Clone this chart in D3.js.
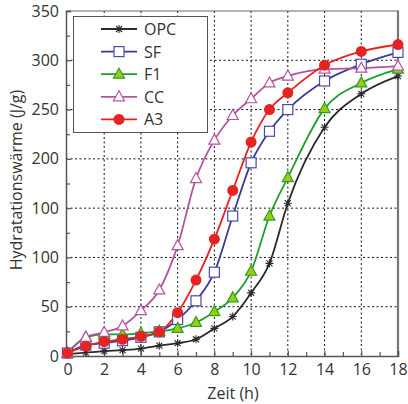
<!DOCTYPE html>
<html><head><meta charset="utf-8">
<script src="https://cdn.jsdelivr.net/npm/d3@7"></script>
<style>body{margin:0;background:#fff}svg{display:block}text{font-family:"Open Sans","Noto Sans",sans-serif;fill:#333}</style>
</head><body><svg id="c" width="408" height="404"></svg>
<script>
const hours = [0,1,2,3,4,5,6,7,8,9,10,11,12,14,16,18];
const opc = [2,3.5,5,6,7.5,10.5,13,17,28,40,64,94,155,232,266,284];
const sf  = [3,11,13,15.5,19,24.5,37,56,85,142,196,228,250,279,296,308];
const f1  = [3,19,22,22,23,25,28,34,45,59,86,142,181,251,277,291];
const cc  = [3,19,24,30.5,46,67,112,180,219,244,261,277,284,291,292,294];
const a3  = [3,10,14.5,17,20,24.5,44,77,118.5,168,217,250,267,295,309,316];
const seriesNames = ["OPC","SF","F1","CC","A3"];
const xTicks = [0,2,4,6,8,10,12,14,16,18];
const yTicks = [0,50,100,150,200,250,300,350];
const yTickLabels = ["0","50","100","100","200","250","300","350"];
const xLabel = "Zeit (h)";
const yLabel = "Hydratationswärme (J/g)";

const svg = d3.select("#c");
const L=66, R=398, T=11, B=356;
const x = d3.scaleLinear().domain([-0.08,18]).range([L,R]);
const y = d3.scaleLinear().domain([0,350]).range([B,T]);
const FS = 16;

// grid
const g = svg.append("g");
g.selectAll(".gx").data(xTicks.filter(d=>d>0&&d<18)).join("line")
 .attr("x1",d=>x(d)).attr("x2",d=>x(d)).attr("y1",T).attr("y2",B)
 .attr("stroke","#111").attr("stroke-width",1).attr("stroke-dasharray","2,2.5");
g.selectAll(".gy").data(yTicks.filter(d=>d>0&&d<350)).join("line")
 .attr("x1",L).attr("x2",R).attr("y1",d=>y(d)).attr("y2",d=>y(d))
 .attr("stroke","#111").attr("stroke-width",1).attr("stroke-dasharray","2,2.5");

// frame
svg.append("line").attr("x1",L).attr("x2",R).attr("y1",T).attr("y2",T).attr("stroke","#666").attr("stroke-width",1.2);
svg.append("line").attr("x1",R).attr("x2",R).attr("y1",T-0.6).attr("y2",B).attr("stroke","#777").attr("stroke-width",2.2);

// axes
const xAxis = d3.axisBottom(x).tickValues(xTicks).tickSize(-5).tickPadding(8).tickFormat(d3.format("d"));
svg.append("g").attr("transform",`translate(0,${B})`).call(xAxis);
const xMinor = d3.axisBottom(x).tickValues(d3.range(1,18,2)).tickSize(-4).tickFormat("");
svg.append("g").attr("transform",`translate(0,${B})`).call(xMinor).call(s=>s.select(".domain").remove());
const yAxis = d3.axisLeft(y).tickValues(yTicks).tickSize(-5).tickPadding(7).tickFormat((d,i)=>yTickLabels[i]);
svg.append("g").attr("transform",`translate(${L},0)`).call(yAxis);
const yMinor = d3.axisLeft(y).tickValues(d3.range(25,350,50)).tickSize(-4).tickFormat("");
svg.append("g").attr("transform",`translate(${L},0)`).call(yMinor).call(s=>s.select(".domain").remove());
svg.selectAll(".domain").attr("stroke","#555").attr("stroke-width",1.5);
svg.selectAll(".tick line").attr("stroke","#555").attr("stroke-width",1.2);
svg.selectAll(".tick text").attr("font-size",FS).attr("fill","#333").style("font-family",'"Open Sans","Noto Sans",sans-serif');

svg.append("text").attr("x",233).attr("y",399).attr("text-anchor","middle").attr("font-size",FS).text(xLabel);
svg.append("text").attr("transform","translate(22,180) rotate(-90)").attr("text-anchor","middle").attr("font-size",FS).text(yLabel);

// series
const cfg = [
 {name:"OPC",data:opc,line:"#2a2a2a",marker:"star",fill:"none",stroke:"#2a2a2a"},
 {name:"SF",data:sf,line:"#3a3a98",marker:"square",fill:"#fff",stroke:"#4a4aa8"},
 {name:"F1",data:f1,line:"#1e9e2a",marker:"tri",fill:"#9acd12",stroke:"#2e9e20"},
 {name:"CC",data:cc,line:"#b4549e",marker:"tri",fill:"#fff",stroke:"#b4549e"},
 {name:"A3",data:a3,line:"#e52320",marker:"circle",fill:"#e52320",stroke:"#e52320"}
];
const lineGen = d3.line().x(d=>x(d[0])).y(d=>y(d[1])).curve(d3.curveMonotoneX);
function drawMarker(sel, m, cx, cy){
  const gg = sel.append("g").attr("transform",`translate(${cx},${cy})`);
  if(m.marker==="square") gg.append("rect").attr("x",-5).attr("y",-5).attr("width",10).attr("height",10).attr("fill",m.fill).attr("stroke",m.stroke).attr("stroke-width",1.2);
  else if(m.marker==="circle") gg.append("circle").attr("r",5.5).attr("fill",m.fill);
  else if(m.marker==="tri") gg.append("path").attr("d","M0,-6L5.5,4L-5.5,4Z").attr("fill",m.fill).attr("stroke",m.stroke).attr("stroke-width",1.2);
  else if(m.marker==="star"){
    gg.append("path").attr("d","M-4,0L4,0M0,-4L0,4M-3,-3L3,3M-3,3L3,-3").attr("stroke",m.stroke).attr("stroke-width",1.1);
  }
}
const plot = svg.append("g");
cfg.forEach(m=>{
  const pts = hours.map((h,i)=>[h,m.data[i]]);
  plot.append("path").attr("d",lineGen(pts)).attr("fill","none").attr("stroke",m.line).attr("stroke-width",1.8);
});
cfg.forEach(m=>{
  hours.forEach((h,i)=>drawMarker(plot,m,x(h),y(m.data[i])));
});

// legend
const lg = svg.append("g");
lg.append("rect").attr("x",73.5).attr("y",16.5).attr("width",134).attr("height",116).attr("fill","#fff").attr("stroke","#555").attr("stroke-width",1);
cfg.forEach((m,i)=>{
  const ly = 29 + i*22.6;
  lg.append("line").attr("x1",101).attr("x2",137).attr("y1",ly).attr("y2",ly).attr("stroke",m.line).attr("stroke-width",1.8);
  drawMarker(lg,m,119,ly);
  lg.append("text").attr("x",144).attr("y",ly+6).attr("font-size",FS).text(seriesNames[i]);
});
</script></body></html>
